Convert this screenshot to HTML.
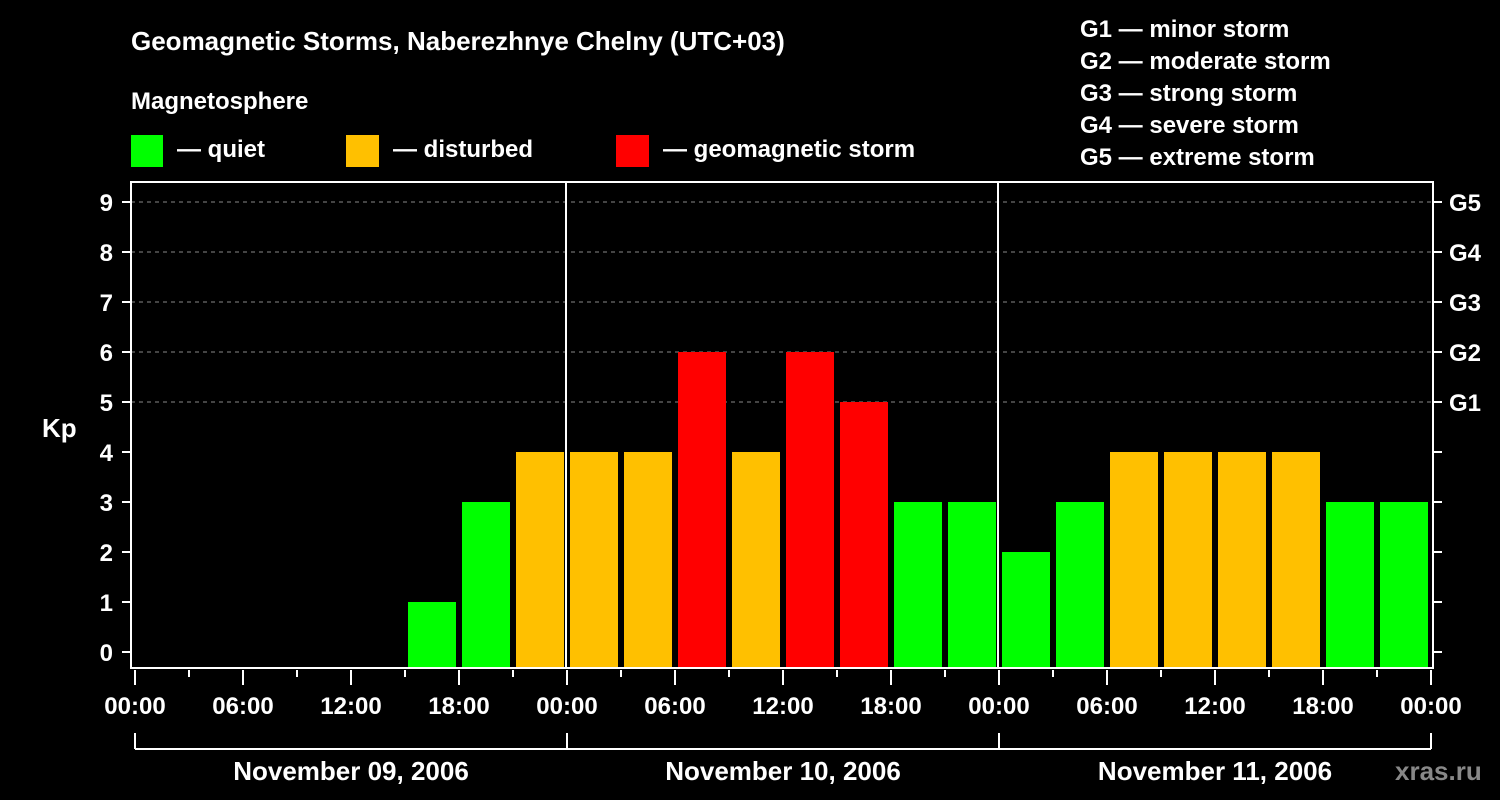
<!DOCTYPE html>
<html><head><meta charset="utf-8"><style>
html,body{margin:0;padding:0;background:#000;}
svg{display:block;font-family:"Liberation Sans",Arial,sans-serif;font-weight:bold;}
</style></head><body>
<svg id="chart" width="1500" height="800" viewBox="0 0 1500 800">
<rect width="1500" height="800" fill="#000"/>
<text x="131" y="50" fill="#fff" font-size="26">Geomagnetic Storms, Naberezhnye Chelny (UTC+03)</text>
<text x="131" y="109" fill="#fff" font-size="24">Magnetosphere</text>
<g><rect x="131" y="135" width="32" height="32" fill="#00ff00"/><text x="177" y="157" fill="#fff" font-size="24">— quiet</text></g>
<g><rect x="346" y="135" width="33" height="32" fill="#ffc000"/><text x="393" y="157" fill="#fff" font-size="24">— disturbed</text></g>
<g><rect x="616" y="135" width="33" height="32" fill="#ff0000"/><text x="663" y="157" fill="#fff" font-size="24">— geomagnetic storm</text></g>
<g fill="#fff" font-size="24">
<text x="1080" y="37">G1 — minor storm</text>
<text x="1080" y="69">G2 — moderate storm</text>
<text x="1080" y="101">G3 — strong storm</text>
<text x="1080" y="133">G4 — severe storm</text>
<text x="1080" y="165">G5 — extreme storm</text>
</g>
<text x="42" y="437" fill="#fff" font-size="26">Kp</text>
<text x="1395" y="780" fill="#888" font-size="26">xras.ru</text>
<g id="grid"></g>
<g id="bars"></g>
<g id="axes"></g>
</svg>
<script>
const kpValues=[null,null,null,null,null,1,3,4, 4,4,6,4,6,5,3,3, 2,3,4,4,4,4,3,3];
const dayLabels=["November 09, 2006","November 10, 2006","November 11, 2006"];
const hourLabels=["00:00","06:00","12:00","18:00"];
const stormLabels=["G1","G2","G3","G4","G5"];
const NS="http://www.w3.org/2000/svg";
const L=131,R=1433,T=182,B=668,X0=134,SLOT=54;
function y(v){return 652-v*50;}
function x(i){return X0+i*SLOT;}
function mk(tag,attrs,parent){const e=document.createElementNS(NS,tag);for(const k in attrs)e.setAttribute(k,attrs[k]);parent.appendChild(e);return e;}
const grid=document.getElementById('grid'),bars=document.getElementById('bars'),axes=document.getElementById('axes');
for(let v=5;v<=9;v++){const g=mk('line',{x1:L,x2:R,y1:y(v),y2:y(v),stroke:'#888','stroke-dasharray':'4,4','stroke-width':1},grid);

}
kpValues.forEach((v,i)=>{if(v==null)return;
const c=v>=5?'#ff0000':(v>=4?'#ffc000':'#00ff00');
const r=mk('rect',{x:x(i)+4,y:y(v),width:48,height:B-y(v)-1,fill:c},bars);

});
const frame=mk('rect',{x:L,y:T,width:R-L,height:B-T,fill:'none',stroke:'#fff','stroke-width':2},axes);


for(let d=1;d<3;d++)mk('line',{x1:x(d*8),x2:x(d*8),y1:T,y2:B,stroke:'#fff','stroke-width':2},axes);
for(let v=0;v<=9;v++){
mk('line',{x1:L-9,x2:L,y1:y(v),y2:y(v),stroke:'#fff','stroke-width':2},axes);
mk('line',{x1:R,x2:R+9,y1:y(v),y2:y(v),stroke:'#fff','stroke-width':2},axes);
const t=mk('text',{x:113,y:y(v)+9,'text-anchor':'end',fill:'#fff','font-size':24},axes);t.textContent=v;

}
stormLabels.forEach((s,i)=>{const t=mk('text',{x:1449,y:y(5+i)+9,fill:'#fff','font-size':24},axes);t.textContent=s;

});
for(let i=0;i<=24;i++){const major=i%2==0;
mk('line',{x1:x(i)+1,x2:x(i)+1,y1:B+2,y2:B+(major?17:9),stroke:'#fff','stroke-width':2},axes);
if(major){const t=mk('text',{x:x(i)+1,y:714,'text-anchor':'middle',fill:'#fff','font-size':24},axes);t.textContent=hourLabels[(i/2)%4];

}}
mk('line',{x1:x(0)+1,x2:x(24)+1,y1:749,y2:749,stroke:'#fff','stroke-width':2},axes);
for(let d=0;d<=3;d++)mk('line',{x1:x(d*8)+1,x2:x(d*8)+1,y1:733,y2:749,stroke:'#fff','stroke-width':2},axes);
dayLabels.forEach((s,d)=>{const t=mk('text',{x:x(d*8+4)+1,y:780,'text-anchor':'middle',fill:'#fff','font-size':26},axes);t.textContent=s;

});
</script>
</body></html>
